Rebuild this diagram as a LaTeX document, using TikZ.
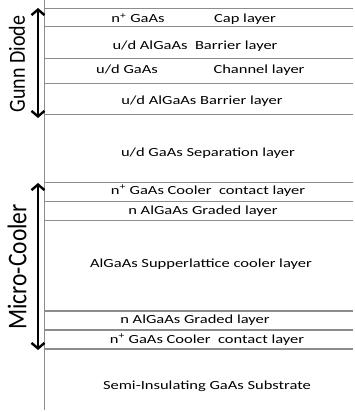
\documentclass[tikz,border=0pt]{standalone}
\usepackage{fontspec}
\setmainfont{Carlito}
\usetikzlibrary{arrows.meta,positioning}

\begin{document}
\begin{tikzpicture}[x=1pt,y=-1pt,
    layertext/.style={anchor=base,inner sep=0pt,font=\fontsize{12.4}{14}\selectfont,xscale=1.33},
    grouplabel/.style={inner sep=0pt,font=\fontsize{21}{24}\selectfont,rotate=90,yscale=1.15},
    layerline/.style={draw=black!45,line width=0.8pt},
    grouparrow/.style={line width=2.4pt,{Straight Barb[length=5.5pt,width=13pt]}-{Straight Barb[length=5.5pt,width=13pt]}}
  ]
    \useasboundingbox (0,0) rectangle (355,412);

    % Substrate edge and layer boundaries
    \draw[layerline] (44,0) -- (44,410);
    \foreach \yy in {8,26,58,83,114,182,201,220}
      \draw[layerline] (44,\yy) -- (353,\yy);
    \foreach \yy in {311,330,349}
      \draw[layerline,line width=1.2pt] (44,\yy) -- (353,\yy);

    % Layer names
    \node[layertext] (cap) at (138,23) {n\textsuperscript{+} GaAs};
    \node[layertext] (capname) at (245,23) {Cap layer};
    \node[layertext] (barrier1) at (195,49) {u/d AlGaAs\ \ Barrier layer};
    \node[layertext] (channel) at (127,74) {u/d GaAs};
    \node[layertext] (channelname) at (259,74) {Channel layer};
    \node[layertext] (barrier2) at (202,104) {u/d AlGaAs Barrier layer};
    \node[layertext] (separation) at (208,156) {u/d GaAs Separation layer};
    \node[layertext] (contact1) at (208,194) {n\textsuperscript{+} GaAs Cooler\ \ contact layer};
    \node[layertext] (graded1) at (203,214) {n AlGaAs Graded layer};
    \node[layertext] (superlattice) at (201,267) {AlGaAs Supperlattice cooler layer};
    \node[layertext] (graded2) at (195,323) {n AlGaAs Graded layer};
    \node[layertext] (contact2) at (207,343) {n\textsuperscript{+} GaAs Cooler\ \ contact layer};
    \node[layertext] (substrate) at (207,389) {Semi-Insulating GaAs Substrate};

    % Device regions
    \coordinate (gunntop) at (38,8);
    \coordinate (gunnbot) at (38,118);
    \coordinate (cooltop) at (38,183);
    \coordinate (coolbot) at (38,350);
    \draw[grouparrow] (gunntop) -- (gunnbot);
    \draw[grouparrow] (cooltop) -- (coolbot);
    \node[grouplabel,font=\fontsize{20}{24}\selectfont] (gunn) at (17,64) {Gunn Diode};
    \node[grouplabel,font=\fontsize{23.5}{26}\selectfont] (cooler) at (17,267) {Micro-Cooler};
\end{tikzpicture}
\end{document}
